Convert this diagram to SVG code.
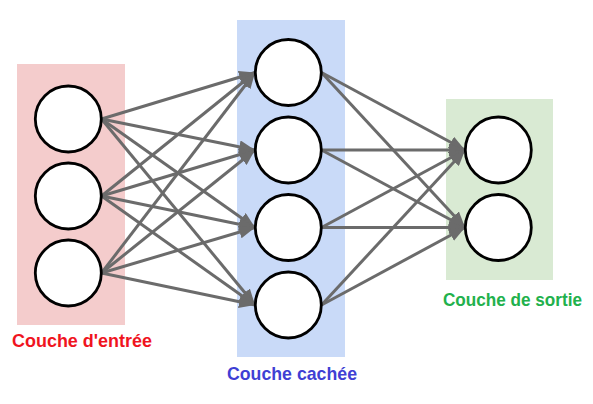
<svg xmlns="http://www.w3.org/2000/svg" width="593" height="404" viewBox="0 0 593 404">
  <defs>
    <marker id="arrow" markerUnits="userSpaceOnUse" markerWidth="17" markerHeight="13" refX="16" refY="6.5" orient="auto">
      <path d="M0,0 L16,6.5 L0,13 z" fill="#6b6b6b"/>
    </marker>
    <style>
      .layer-in { fill: #f4cccc; }
      .layer-hid { fill: #c9daf8; }
      .layer-out { fill: #d9ead3; }
      .neuron { fill: #ffffff; stroke: #000000; stroke-width: 2.8; }
      .edge { stroke: #6b6b6b; stroke-width: 3; fill: none; marker-end: url(#arrow); }
      .label { font-family: "Liberation Sans", Arial, sans-serif; font-weight: bold; font-size: 19px; }
    </style>
  </defs>
  <rect width="593" height="404" fill="#ffffff"/>

  <g id="layer-backgrounds">
    <rect class="layer-in" x="17" y="64" width="108" height="261"/>
    <rect class="layer-hid" x="237" y="20" width="108" height="337"/>
    <rect class="layer-out" x="446" y="99" width="107" height="181"/>
  </g>

  <g id="connectors">
    <line class="edge" x1="101.5" y1="119" x2="255" y2="72.5"/>
    <line class="edge" x1="101.5" y1="119" x2="255" y2="150"/>
    <line class="edge" x1="101.5" y1="119" x2="255" y2="227.5"/>
    <line class="edge" x1="101.5" y1="119" x2="255" y2="305"/>
    <line class="edge" x1="101.5" y1="196" x2="255" y2="72.5"/>
    <line class="edge" x1="101.5" y1="196" x2="255" y2="150"/>
    <line class="edge" x1="101.5" y1="196" x2="255" y2="227.5"/>
    <line class="edge" x1="101.5" y1="196" x2="255" y2="305"/>
    <line class="edge" x1="101.5" y1="273" x2="255" y2="72.5"/>
    <line class="edge" x1="101.5" y1="273" x2="255" y2="150"/>
    <line class="edge" x1="101.5" y1="273" x2="255" y2="227.5"/>
    <line class="edge" x1="101.5" y1="273" x2="255" y2="305"/>
    <line class="edge" x1="321.5" y1="72.5" x2="465" y2="150"/>
    <line class="edge" x1="321.5" y1="72.5" x2="465" y2="227.5"/>
    <line class="edge" x1="321.5" y1="150" x2="465" y2="150"/>
    <line class="edge" x1="321.5" y1="150" x2="465" y2="227.5"/>
    <line class="edge" x1="321.5" y1="227.5" x2="465" y2="150"/>
    <line class="edge" x1="321.5" y1="227.5" x2="465" y2="227.5"/>
    <line class="edge" x1="321.5" y1="305" x2="465" y2="150"/>
    <line class="edge" x1="321.5" y1="305" x2="465" y2="227.5"/>
  </g>

  <g id="in1"><circle class="neuron" cx="68.3" cy="119" r="33"/></g>
  <g id="in2"><circle class="neuron" cx="68.3" cy="196" r="33"/></g>
  <g id="in3"><circle class="neuron" cx="68.3" cy="273" r="33"/></g>

  <g id="hid1"><circle class="neuron" cx="288.3" cy="72.5" r="33"/></g>
  <g id="hid2"><circle class="neuron" cx="288.3" cy="150" r="33"/></g>
  <g id="hid3"><circle class="neuron" cx="288.3" cy="227.5" r="33"/></g>
  <g id="hid4"><circle class="neuron" cx="288.3" cy="305" r="33"/></g>

  <g id="out1"><circle class="neuron" cx="498.3" cy="150" r="33"/></g>
  <g id="out2"><circle class="neuron" cx="498.3" cy="227.5" r="33"/></g>

  <g id="label-in"><text class="label" x="12" y="347" fill="#f0141e" textLength="140" lengthAdjust="spacingAndGlyphs">Couche d'entrée</text></g>
  <g id="label-hid"><text class="label" x="227" y="380" fill="#3f3fd4" textLength="130" lengthAdjust="spacingAndGlyphs">Couche cachée</text></g>
  <g id="label-out"><text class="label" x="443" y="306" fill="#22b14c" style="font-size:18px" textLength="139" lengthAdjust="spacingAndGlyphs">Couche de sortie</text></g>
</svg>
